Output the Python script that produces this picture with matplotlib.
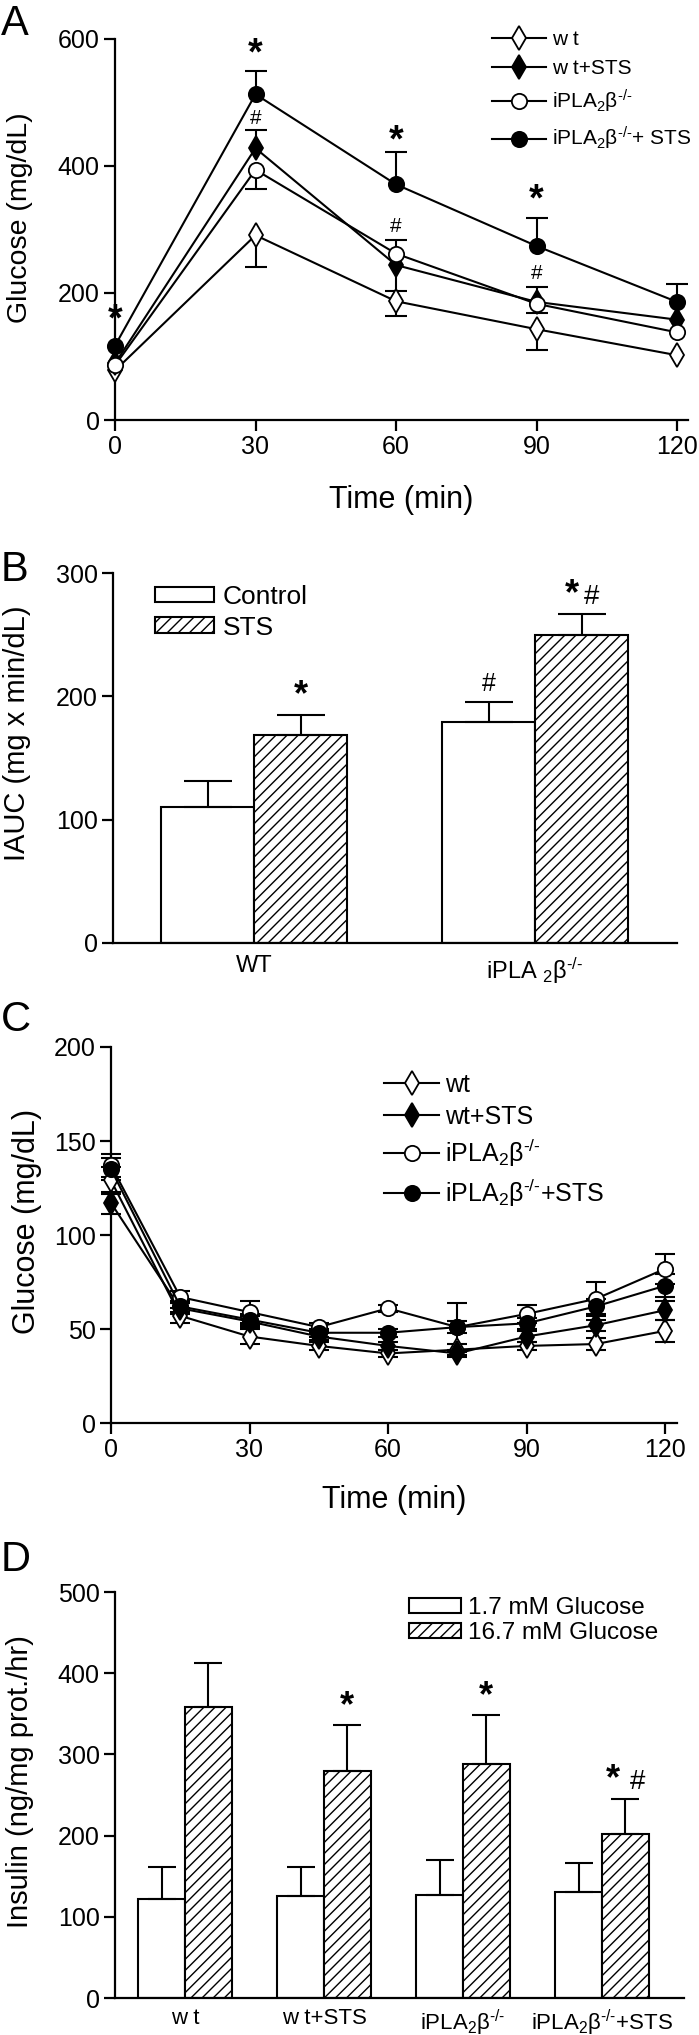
import numpy as np
import matplotlib
matplotlib.use('Agg')
import matplotlib.pyplot as plt

plt.rcParams['font.family'] = ['Liberation Sans', 'DejaVu Sans']
plt.rcParams['mathtext.fontset'] = 'custom'
plt.rcParams['mathtext.rm'] = 'Liberation Sans'
plt.rcParams['mathtext.it'] = 'Liberation Sans:italic'
plt.rcParams['mathtext.bf'] = 'Liberation Sans:bold'
plt.rcParams['mathtext.default'] = 'regular'
plt.rcParams['hatch.linewidth'] = 1.0
plt.rcParams['axes.linewidth'] = 1.6

# ---------------- data ----------------
IPLA = 'iPLA$_2$β$^{\u2010/\u2010}$'

# Panel A: glucose tolerance
time_a = [0, 30, 60, 90, 120]
wt_a = [78, 291, 187, 143, 102]
wt_sts_a = [89, 428, 244, 186, 158]
ipla_a = [86, 394, 262, 183, 138]
ipla_sts_a = [117, 513, 371, 274, 186]
wt_a_lo = [0, 50, 23, 33, 0]
wt_a_up = [0, 0, 0, 0, 0]
wt_sts_a_lo = [0, 0, 41, 18, 0]
wt_sts_a_up = [0, 28, 0, 0, 0]
ipla_a_lo = [0, 31, 0, 0, 0]
ipla_a_up = [0, 0, 22, 26, 0]
ipla_sts_a_lo = [0, 0, 0, 0, 0]
ipla_sts_a_up = [0, 37, 51, 44, 28]
labels_a = ['w t', 'w t+STS', IPLA, IPLA + '+ STS']
star_a_x = [0, 30, 60, 90]
star_a_y = [157, 575, 438, 346]
hash_a_x = [30, 60, 90]
hash_a_y = [475, 304, 231]

# Panel B: IAUC
groups_b = ['WT', 'iPLA $_2$β$^{\u2010/\u2010}$']
control_b = [110, 179]
control_b_err = [21, 16]
sts_b = [169, 250]
sts_b_err = [16, 17]
labels_b = ['Control', 'STS']
sig_b_control = ['', '#']
sig_b_sts = ['*', '*#']

# Panel C: insulin tolerance
time_c = [0, 15, 30, 45, 60, 75, 90, 105, 120]
wt_c = [129, 57, 46, 41, 37, 39, 41, 42, 49]
wt_sts_c = [117, 61, 54, 46, 41, 37, 46, 52, 60]
ipla_c = [137, 67, 59, 51, 61, 51, 58, 66, 82]
ipla_sts_c = [135, 62, 55, 48, 48, 51, 53, 62, 73]
wt_c_err = [7, 4, 4, 2, 2, 3, 2, 3, 6]
wt_sts_c_err = [6, 3, 3, 2, 2, 2, 3, 3, 5]
ipla_c_err = [6, 3, 6, 2, 2, 13, 5, 9, 8]
ipla_sts_c_err = [6, 3, 3, 2, 2, 3, 3, 4, 6]
labels_c = ['wt', 'wt+STS', IPLA, IPLA + '+STS']

# Panel D: insulin secretion
groups_d = ['w t', 'w t+STS', IPLA, IPLA + '+STS']
low_d = [122, 126, 127, 131]
low_d_err = [39, 35, 43, 35]
high_d = [358, 280, 288, 202]
high_d_err = [55, 56, 60, 43]
labels_d = ['1.7 mM Glucose', '16.7 mM Glucose']
sig_d_high = ['', '*', '*', '*#']

# ---------------- layout helpers ----------------
W, H = 699, 2035
fig = plt.figure(figsize=(W / 100, H / 100), dpi=100)


def rect(left, right, top, bottom):
    return [left / W, 1 - bottom / H, (right - left) / W, (bottom - top) / H]


def style(ax):
    for s in ('top', 'right'):
        ax.spines[s].set_visible(False)
    ax.tick_params(direction='out', length=8, width=1.6, labelsize=18, pad=3)


def one_sided(ax, x, y, lo, up, cap_ms):
    x, y, lo, up = (np.asarray(v, float) for v in (x, y, lo, up))
    for sign, e in ((1, up), (-1, lo)):
        m = e > 0
        if not m.any():
            continue
        end = y[m] + sign * e[m]
        ax.vlines(x[m], y[m], end, colors='k', lw=1.5, zorder=2, clip_on=False)
        ax.plot(x[m], end, ls='none', marker='_', ms=cap_ms, mew=1.5,
                color='k', zorder=2, clip_on=False)


def sig(ax, x, y, s, star_fs=26, hash_fs=18, gap=8):
    """Significance symbols placed above (x, y) in data coords."""
    if not s:
        return
    both = '*' in s and '#' in s
    if '*' in s:
        ax.annotate('*', (x, y), xytext=(-gap if both else 0, 1), textcoords='offset points',
                    ha='center', va='bottom', fontsize=star_fs, fontweight='bold')
    if '#' in s:
        ax.annotate('#', (x, y), xytext=(gap if both else 0, 3 if both else 5),
                    textcoords='offset points', ha='center', va='bottom',
                    fontsize=20 if both else hash_fs)


styles = [dict(marker='d', mfc='white', ms=12.5),
          dict(marker='d', mfc='black', ms=12.5),
          dict(marker='o', mfc='white', ms=11),
          dict(marker='o', mfc='black', ms=11)]

# ---------------- Panel A ----------------
axA = fig.add_axes(rect(115, 688, 39, 420))
style(axA)
series_a = [(wt_a, wt_a_lo, wt_a_up), (wt_sts_a, wt_sts_a_lo, wt_sts_a_up),
            (ipla_a, ipla_a_lo, ipla_a_up), (ipla_sts_a, ipla_sts_a_lo, ipla_sts_a_up)]
handles_a = []
for (vals, lo, up), st, lab in zip(series_a, styles, labels_a):
    one_sided(axA, time_a, vals, lo, up, 16)
    ln, = axA.plot(time_a, vals, color='k', lw=1.5, mec='k', mew=1.3,
                   clip_on=False, zorder=3, label=lab, **st)
    handles_a.append(ln)
for x, y in zip(star_a_x, star_a_y):
    axA.text(x, y, '*', ha='center', va='center', fontsize=27, fontweight='bold')
for x, y in zip(hash_a_x, hash_a_y):
    axA.text(x, y, '#', ha='center', va='center', fontsize=15)
axA.set_xlim(0, 120 * (688 - 115) / (677 - 115))
axA.set_ylim(0, 600)
axA.set_xticks([0, 30, 60, 90, 120])
axA.set_yticks([0, 200, 400, 600])
axA.set_xlabel('Time (min)', fontsize=22)
axA.xaxis.set_label_coords(0.5, -80 / 381)
axA.xaxis.label.set_va('center')
axA.set_ylabel('Glucose (mg/dL)', fontsize=20.5)
axA.yaxis.set_label_coords((20 - 115) / 573, 0.53)
axA.yaxis.label.set_va('center')
axA.legend(handles_a, labels_a, loc='upper left', bbox_to_anchor=(492 / W, 1 - 30 / H),
           bbox_transform=fig.transFigure, frameon=False, fontsize=15, handlelength=2.6,
           handletextpad=0.3, labelspacing=0.48, borderpad=0, borderaxespad=0, numpoints=1)

# ---------------- Panel B ----------------
axB = fig.add_axes(rect(113, 677, 573, 943))
style(axB)
xb = np.arange(len(groups_b))
wb = 0.331
axB.bar(xb - wb / 2, control_b, wb, yerr=[np.zeros(2), control_b_err],
        color='white', edgecolor='k', lw=1.5, capsize=17,
        error_kw=dict(elinewidth=1.5, capthick=1.5), label=labels_b[0])
axB.bar(xb + wb / 2, sts_b, wb, yerr=[np.zeros(2), sts_b_err],
        color='white', edgecolor='k', lw=1.5, hatch='///', capsize=17,
        error_kw=dict(elinewidth=1.5, capthick=1.5), label=labels_b[1])
for i in range(len(groups_b)):
    sig(axB, xb[i] - wb / 2, control_b[i] + control_b_err[i], sig_b_control[i])
    sig(axB, xb[i] + wb / 2, sts_b[i] + sts_b_err[i], sig_b_sts[i], gap=7)
axB.set_xlim(-0.502, 1.505)
axB.set_ylim(0, 300)
axB.set_yticks([0, 100, 200, 300])
axB.set_xticks(xb)
axB.set_xticklabels(groups_b, fontsize=17)
axB.tick_params(axis='x', length=0, pad=9)
axB.set_ylabel('IAUC (mg x min/dL)', fontsize=21)
axB.yaxis.set_label_coords((17 - 113) / 564, 0.567)
axB.yaxis.label.set_va('center')
axB.legend(loc='upper left', bbox_to_anchor=(155 / W, 1 - 585 / H),
           bbox_transform=fig.transFigure, frameon=False, fontsize=19, handlelength=2.23,
           handleheight=0.53, handletextpad=0.33, labelspacing=0.25, borderpad=0, borderaxespad=0)

# ---------------- Panel C ----------------
axC = fig.add_axes(rect(111, 677, 1047, 1423))
style(axC)
series_c = [(wt_c, wt_c_err), (wt_sts_c, wt_sts_c_err), (ipla_c, ipla_c_err), (ipla_sts_c, ipla_sts_c_err)]
handles_c = []
for (vals, err), st, lab in zip(series_c, styles, labels_c):
    axC.errorbar(time_c, vals, yerr=err, fmt='none', ecolor='k', elinewidth=1.5,
                 capsize=7, capthick=1.5, zorder=2, clip_on=False)
    ln, = axC.plot(time_c, vals, color='k', lw=1.5, mec='k', mew=1.3,
                   clip_on=False, zorder=3, label=lab, **st)
    handles_c.append(ln)
axC.set_xlim(0, 120 * (677 - 111) / (665 - 111))
axC.set_ylim(0, 200)
axC.set_xticks([0, 30, 60, 90, 120])
axC.set_yticks([0, 50, 100, 150, 200])
axC.set_xlabel('Time (min)', fontsize=22)
axC.xaxis.set_label_coords(0.5, -77 / 376)
axC.xaxis.label.set_va('center')
axC.set_ylabel('Glucose (mg/dL)', fontsize=22)
axC.yaxis.set_label_coords((27 - 111) / 566, 0.535)
axC.yaxis.label.set_va('center')
axC.legend(handles_c, labels_c, loc='upper left', bbox_to_anchor=(384 / W, 1 - 1073 / H),
           bbox_transform=fig.transFigure, frameon=False, fontsize=18, handlelength=2.2,
           handletextpad=0.25, labelspacing=0.32, borderpad=0, borderaxespad=0, numpoints=1)

# ---------------- Panel D ----------------
axD = fig.add_axes(rect(115, 684, 1592, 1998))
style(axD)
xd = np.arange(len(groups_d))
wd = 0.335
axD.bar(xd - wd / 2, low_d, wd, yerr=[np.zeros(4), low_d_err], color='white',
        edgecolor='k', lw=1.5, capsize=10, error_kw=dict(elinewidth=1.5, capthick=1.5),
        label=labels_d[0])
axD.bar(xd + wd / 2, high_d, wd, yerr=[np.zeros(4), high_d_err], color='white',
        edgecolor='k', lw=1.5, hatch='///', capsize=10,
        error_kw=dict(elinewidth=1.5, capthick=1.5), label=labels_d[1])
for i, s in enumerate(sig_d_high):
    sig(axD, xd[i] + wd / 2, high_d[i] + high_d_err[i], s, gap=9)
axD.set_xlim(-0.504, 3.59)
axD.set_ylim(0, 500)
axD.set_yticks([0, 100, 200, 300, 400, 500])
axD.set_xticks(xd)
axD.set_xticklabels(groups_d, fontsize=16)
axD.tick_params(axis='x', length=0, pad=7)
axD.set_ylabel('Insulin (ng/mg prot./hr)', fontsize=21)
axD.yaxis.set_label_coords((20 - 115) / 569, 0.532)
axD.yaxis.label.set_va('center')
axD.legend(loc='upper left', bbox_to_anchor=(409 / W, 1 - 1597 / H),
           bbox_transform=fig.transFigure, frameon=False, fontsize=17.5, handlelength=2.14,
           handleheight=0.58, handletextpad=0.3, labelspacing=0.12, borderpad=0, borderaxespad=0)

# ---------------- panel letters ----------------
for letter, top in (('A', 4), ('B', 550), ('C', 1000), ('D', 1540)):
    fig.text(1 / W, 1 - top / H, letter, fontsize=30, va='top', ha='left')

fig.savefig('out.png', dpi=100)
